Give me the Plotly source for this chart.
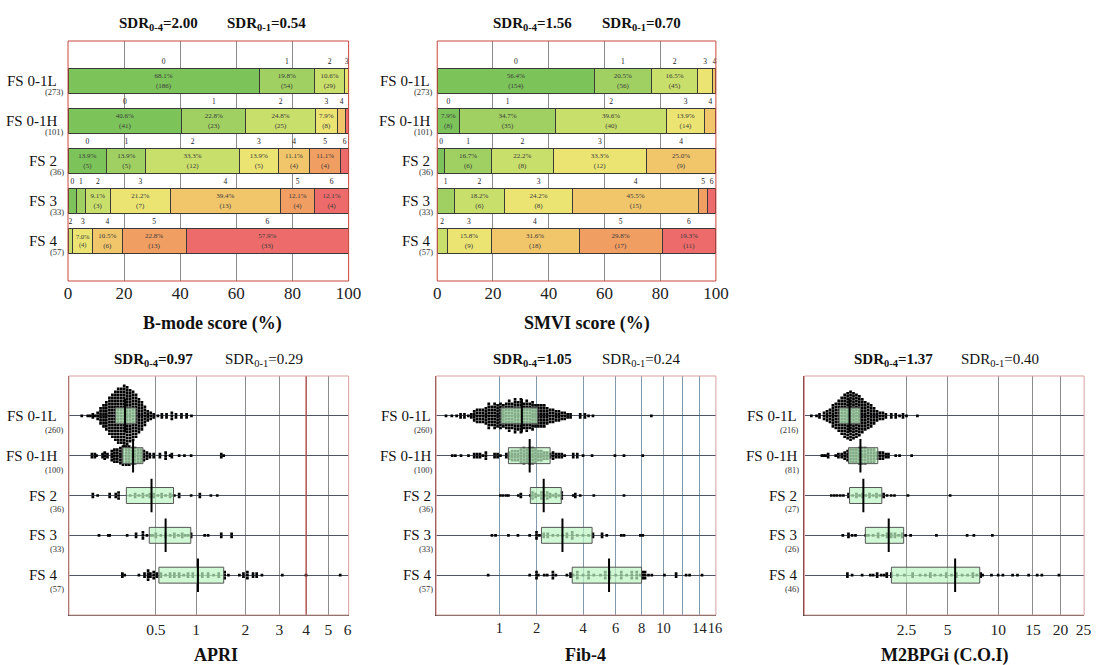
import plotly.graph_objects as go

W, H = 1105, 665
FONT = "Liberation Serif, Times New Roman, serif"

# ---------------- data ----------------
groups = ["FS 0-1L", "FS 0-1H", "FS 2", "FS 3", "FS 4"]
rows = [1, 2, 3, 4, 5]
score_levels = [0, 1, 2, 3, 4, 5, 6]
score_colors = ["#7cc35a", "#a0d062", "#c9df6b", "#ebe473", "#f1c56a", "#f19e62", "#ed6b6b"]

# B-mode score: counts per score (0..6) for each group
bmode_n = [273, 101, 36, 33, 57]
bmode_counts = [
    [186, 41, 5, 1, 0],   # score 0
    [54, 23, 5, 1, 0],    # score 1
    [29, 25, 12, 3, 1],   # score 2
    [4, 8, 5, 7, 4],      # score 3
    [0, 3, 4, 13, 6],     # score 4
    [0, 0, 4, 4, 13],     # score 5
    [0, 1, 1, 4, 33],     # score 6
]
# SMVI score
smvi_n = [273, 101, 36, 33, 57]
smvi_counts = [
    [154, 8, 1, 0, 0],
    [56, 35, 6, 2, 0],
    [45, 40, 8, 6, 2],
    [15, 14, 12, 8, 9],
    [3, 4, 9, 15, 18],
    [0, 0, 0, 1, 17],
    [0, 0, 0, 1, 11],
]

# APRI dot plot (values and dot counts per column)
apri_n = [260, 100, 36, 33, 57]
apri_vals = [
    [0.080, 0.097, 0.105, 0.113, 0.121, 0.130, 0.141, 0.153, 0.165, 0.179, 0.193, 0.208, 0.223, 0.240, 0.257,
     0.275, 0.294, 0.314, 0.335, 0.356, 0.379, 0.403, 0.427, 0.453, 0.480, 0.52, 0.56, 0.61, 0.67, 0.72, 0.79, 0.86, 0.93],
    [0.11, 0.12, 0.126, 0.149, 0.158, 0.17, 0.19, 0.203, 0.218, 0.235, 0.25, 0.27, 0.288, 0.307, 0.328, 0.35,
     0.371, 0.395, 0.42, 0.445, 0.48, 0.54, 0.60, 0.65, 0.67, 0.76, 0.83, 0.925, 1.45, 1.5],
    [0.113, 0.13, 0.18, 0.21, 0.225, 0.294, 0.328, 0.356, 0.387, 0.42, 0.445, 0.48, 0.52, 0.558, 0.60, 0.65,
     0.68, 0.70, 0.76, 0.925, 1.06, 1.25, 1.37],
    [0.135, 0.174, 0.18, 0.275, 0.335, 0.387, 0.42, 0.45, 0.47, 0.5, 0.55, 0.6, 0.65, 0.7, 0.75, 0.8, 0.84, 0.88,
     0.925, 1.14, 1.2, 1.45, 1.67],
    [0.246, 0.26, 0.356, 0.40, 0.43, 0.45, 0.48, 0.51, 0.55, 0.6, 0.65, 0.7, 0.76, 0.82, 0.88, 0.95, 1.03, 1.1,
     1.2, 1.3, 1.4, 1.52, 1.6, 1.85, 1.95, 2.05, 2.2, 2.3, 2.45, 3.1, 4.0, 5.6],
]
apri_cnts = [
    [1, 1, 1, 2, 1, 3, 6, 8, 10, 13, 15, 17, 19, 19, 21, 20, 18, 17, 15, 12, 10, 7, 4, 3, 2, 1, 2, 2, 3, 2, 2, 2, 1],
    [2, 2, 1, 2, 3, 2, 4, 5, 5, 6, 7, 7, 7, 6, 6, 5, 5, 4, 3, 2, 2, 2, 3, 1, 2, 1, 1, 1, 2, 1],
    [2, 1, 2, 2, 3, 1, 2, 1, 2, 1, 2, 2, 1, 2, 1, 2, 1, 1, 2, 1, 2, 1, 1],
    [1, 1, 1, 1, 2, 3, 1, 1, 1, 2, 1, 2, 1, 2, 1, 2, 1, 1, 2, 1, 1, 2, 2],
    [2, 1, 1, 2, 4, 2, 3, 2, 2, 1, 2, 2, 2, 1, 2, 2, 1, 2, 2, 1, 2, 3, 1, 1, 2, 3, 2, 2, 1, 1, 1, 1],
]
apri_q1 = [0.208, 0.246, 0.27, 0.44, 0.53]
apri_med = [0.262, 0.314, 0.46, 0.60, 1.03]
apri_q3 = [0.335, 0.387, 0.69, 0.92, 1.50]
apri_ticks = [0.5, 1, 2, 3, 4, 5, 6]
apri_ticklabels = ["0.5", "1", "2", "3", "4", "5", "6"]
apri_cutoff = 4

# Fib-4 dot plot
fib4_n = [260, 100, 36, 33, 57]
fib4_vals = [
    [0.245, 0.296, 0.343, 0.385, 0.43, 0.478, 0.517, 0.557, 0.599, 0.644, 0.691, 0.74, 0.791, 0.845, 0.901, 0.96,
     1.021, 1.084, 1.15, 1.219, 1.29, 1.365, 1.442, 1.522, 1.605, 1.69, 1.78, 1.871, 1.966, 2.064, 2.166, 2.27,
     2.379, 2.49, 2.605, 2.724, 2.846, 2.971, 3.1, 3.233, 3.37, 3.85, 4.1, 4.3, 4.55, 8.86],
    [0.30, 0.33, 0.39, 0.48, 0.557, 0.60, 0.644, 0.691, 0.74, 0.90, 0.96, 1.02, 1.15, 1.22, 1.29, 1.365, 1.442,
     1.522, 1.605, 1.69, 1.78, 1.871, 1.966, 2.064, 2.166, 2.27, 2.379, 2.49, 2.605, 2.724, 2.846, 2.971, 3.1,
     3.5, 3.7, 4.0, 4.5, 5.95, 6.6, 8.1],
    [1.02, 1.08, 1.15, 1.2, 1.45, 1.52, 1.8, 1.87, 1.97, 2.06, 2.17, 2.27, 2.38, 2.49, 2.6, 2.72, 2.85, 2.97,
     3.5, 3.6, 3.85, 4.6, 6.6],
    [0.85, 0.92, 1.2, 1.44, 1.78, 2.0, 2.1, 2.25, 2.4, 2.6, 2.8, 3.0, 3.2, 3.45, 3.7, 4.0, 4.3, 4.55, 5.1, 5.4,
     6.4, 6.6, 7.9, 8.1],
    [0.78, 1.78, 2.0, 2.06, 2.27, 2.38, 2.6, 2.72, 3.2, 3.37, 3.5, 3.7, 4.0, 4.3, 4.6, 5.0, 5.3, 5.6, 6.0, 6.4,
     6.8, 7.2, 7.6, 7.9, 8.1, 8.3, 8.6, 8.9, 10.1, 11.3, 12.4, 12.8, 14.3],
]
fib4_cnts = [
    [1, 1, 1, 2, 2, 1, 2, 4, 5, 5, 5, 6, 9, 7, 9, 8, 9, 8, 9, 11, 9, 12, 10, 12, 9, 11, 9, 10, 8, 8,
     8, 8, 6, 5, 5, 4, 4, 3, 3, 2, 2, 2, 2, 1, 1, 1],
    [1, 1, 1, 1, 2, 2, 2, 1, 3, 2, 2, 1, 2, 3, 4, 4, 4, 5, 6, 5, 6, 6, 5, 4, 4, 3, 3, 2, 3, 2, 2, 2, 1,
     2, 2, 1, 1, 1, 1, 1],
    [1, 1, 1, 1, 1, 2, 1, 3, 2, 1, 3, 1, 3, 2, 1, 2, 1, 3, 1, 2, 1, 1, 1],
    [1, 1, 1, 1, 1, 3, 1, 2, 2, 1, 1, 1, 2, 3, 1, 1, 1, 2, 2, 1, 1, 1, 1, 1],
    [1, 1, 3, 1, 1, 1, 3, 1, 1, 2, 1, 3, 1, 3, 1, 1, 3, 3, 1, 3, 1, 3, 3, 1, 3, 3, 1, 1, 1, 2, 1, 1, 1],
]
fib4_q1 = [1.03, 1.2, 1.8, 2.17, 3.45]
fib4_med = [1.55, 1.78, 2.25, 3.0, 5.55]
fib4_q3 = [2.04, 2.49, 2.95, 4.5, 8.0]
fib4_ticks = [1, 2, 4, 6, 8, 10, 12, 14, 16]
fib4_ticklabels = ["1", "2", "4", "6", "8", "10", "", "14", "16"]

# M2BPGi dot plot
m2_n = [216, 81, 27, 26, 46]
m2_vals = [
    [0.194, 0.238, 0.266, 0.313, 0.347, 0.383, 0.421, 0.462, 0.505, 0.552, 0.601, 0.654, 0.709, 0.768, 0.83,
     0.895, 0.964, 1.037, 1.114, 1.194, 1.278, 1.366, 1.458, 1.555, 1.657, 1.856, 2.03, 2.19, 2.34, 2.5, 3.05],
    [0.29, 0.31, 0.33, 0.36, 0.46, 0.5, 0.552, 0.601, 0.654, 0.709, 0.768, 0.83, 0.895, 0.964, 1.037, 1.114,
     1.194, 1.278, 1.366, 1.458, 1.555, 1.657, 1.75, 2.03, 2.19, 2.75],
    [0.4, 0.44, 0.48, 0.53, 0.58, 0.67, 0.75, 0.83, 0.9, 0.97, 1.05, 1.15, 1.25, 1.35, 1.45, 1.58, 1.7, 1.85,
     1.98, 2.57, 5.2],
    [0.57, 0.67, 0.74, 0.81, 1.05, 1.12, 1.25, 1.4, 1.55, 1.7, 1.85, 2.0, 2.15, 2.3, 2.46, 2.7, 4.2, 6.65, 7.3, 9.3],
    [0.65, 0.74, 0.96, 1.17, 1.25, 1.37, 1.5, 1.6, 1.69, 1.86, 2.1, 2.4, 2.8, 3.2, 3.5, 3.8, 4.1, 4.5, 4.9, 5.3,
     5.7, 6.2, 6.7, 7.2, 7.6, 8.0, 8.2, 9.2, 10.0, 10.6, 11.9, 12.6, 14.3, 15.7, 16.5, 19.7],
]
m2_cnts = [
    [1, 1, 2, 3, 4, 5, 8, 9, 11, 13, 15, 16, 17, 16, 15, 14, 12, 10, 9, 8, 6, 4, 3, 3, 2, 2, 2, 1, 2, 1, 1],
    [1, 1, 1, 2, 1, 2, 2, 3, 4, 5, 5, 5, 6, 6, 6, 5, 5, 5, 3, 3, 3, 2, 2, 1, 1, 1],
    [1, 1, 1, 1, 1, 2, 1, 2, 1, 2, 1, 2, 1, 2, 1, 2, 1, 1, 1, 1, 1],
    [1, 2, 1, 1, 1, 1, 1, 2, 1, 2, 2, 2, 1, 2, 1, 1, 1, 1, 1, 1],
    [2, 1, 1, 1, 1, 2, 1, 1, 2, 2, 1, 1, 2, 1, 1, 2, 1, 1, 2, 1, 2, 1, 1, 2, 1, 2, 1, 1, 1, 1, 1, 1, 1, 1, 1, 1],
]
m2_q1 = [0.51, 0.67, 0.69, 1.04, 1.86]
m2_med = [0.69, 0.92, 0.99, 1.76, 5.6]
m2_q3 = [0.92, 1.39, 1.52, 2.37, 7.9]
m2_ticks = [2.5, 5, 10, 15, 20, 25]
m2_ticklabels = ["2.5", "5", "10", "15", "20", "25"]

# ---------------- figure ----------------
fig = go.Figure()
shapes = []
annotations = []
DOT_DY = 0.075


def ann(text, x, y, size, bold=False, xref="paper", yref="paper", xanchor="center", xshift=0, color="#111"):
    if bold:
        text = "<b>" + text + "</b>"
    annotations.append(dict(text=text, x=x, y=y, xref=xref, yref=yref, xanchor=xanchor, yanchor="middle",
                            xshift=xshift, showarrow=False, font=dict(family=FONT, size=size, color=color)))


def add_bar_panel(counts_by_score, ns, xa, ya):
    for s, cnts in zip(score_levels, counts_by_score):
        pcts = [100.0 * c / n for c, n in zip(cnts, ns)]
        xs = [p if p > 0 else None for p in pcts]
        texts = [f"{p:.1f}%<br>({c})" if p >= 6.5 else "" for p, c in zip(pcts, cnts)]
        fig.add_trace(go.Bar(
            x=xs, y=rows, orientation="h", width=0.62, xaxis=xa, yaxis=ya,
            marker=dict(color=score_colors[s], line=dict(color="#3a3a3a", width=1)),
            text=texts, textposition="inside", insidetextanchor="middle", textangle=0,
            insidetextfont=dict(size=7, color="#3a3a3a", family=FONT),
            hoverinfo="skip", showlegend=False))
    lx, ly, lt = [], [], []
    for i, n in enumerate(ns):
        left = 0.0
        for s, cnts in zip(score_levels, counts_by_score):
            p = 100.0 * cnts[i] / n
            if p > 1.0:
                lx.append(left + p / 2)
                ly.append(rows[i] - 0.47)
                lt.append(str(s))
            left += p
    fig.add_trace(go.Scatter(x=lx, y=ly, text=lt, mode="text", xaxis=xa, yaxis=ya, cliponaxis=False,
                             textfont=dict(size=7.5, color="#222", family=FONT),
                             hoverinfo="skip", showlegend=False))


def add_dot_panel(vals_list, cnts_list, q1, med, q3, p, xa, ya):
    for i, (vals, cnts) in enumerate(zip(vals_list, cnts_list)):
        yc = rows[i]
        xs, ys = [], []
        for v, c in zip(vals, cnts):
            for k in range(c):
                xs.append(v ** p)
                ys.append(yc + (k - (c - 1) / 2) * DOT_DY)
        fig.add_trace(go.Scatter(x=xs, y=ys, mode="markers", xaxis=xa, yaxis=ya,
                                 marker=dict(symbol="square", size=2.7, color="#000", line=dict(width=0)),
                                 hoverinfo="skip", showlegend=False))
        shapes.append(dict(type="rect", xref=xa, yref=ya, x0=q1[i] ** p, x1=q3[i] ** p,
                           y0=yc - 0.2, y1=yc + 0.2, fillcolor="rgba(190,245,195,0.7)",
                           line=dict(color="#555", width=1), layer="above"))
        shapes.append(dict(type="line", xref=xa, yref=ya, x0=med[i] ** p, x1=med[i] ** p,
                           y0=yc - 0.42, y1=yc + 0.42, line=dict(color="#000", width=2), layer="above"))


def add_group_labels(ns, xa, ya, shift_name, shift_n, n_dy):
    for i in range(5):
        ann(groups[i], 0, rows[i], 15, xref=f"{xa} domain", yref=ya, xanchor="right", xshift=shift_name)
        ann(f"({ns[i]})", 0, rows[i] + n_dy, 8.5, xref=f"{xa} domain", yref=ya, xanchor="right",
            xshift=shift_n, color="#333")


def border(xa, ya, color):
    shapes.append(dict(type="rect", xref=f"{xa} domain", yref=f"{ya} domain", x0=0, x1=1, y0=0, y1=1,
                       line=dict(color=color, width=1), fillcolor="rgba(0,0,0,0)", layer="above"))


# top panels
add_bar_panel(bmode_counts, bmode_n, "x", "y")
add_bar_panel(smvi_counts, smvi_n, "x2", "y2")
# bottom panels
P_APRI, P_FIB, P_M2 = 0.295, 0.33, 0.30
# red reference line at APRI = 4
shapes.append(dict(type="line", xref="x3", yref="y3 domain", x0=apri_cutoff ** P_APRI, x1=apri_cutoff ** P_APRI,
                   y0=0, y1=1, line=dict(color="#c0504d", width=1.2), layer="above"))
add_dot_panel(apri_vals, apri_cnts, apri_q1, apri_med, apri_q3, P_APRI, "x3", "y3")
add_dot_panel(fib4_vals, fib4_cnts, fib4_q1, fib4_med, fib4_q3, P_FIB, "x4", "y4")
add_dot_panel(m2_vals, m2_cnts, m2_q1, m2_med, m2_q3, P_M2, "x5", "y5")

add_group_labels(bmode_n, "x", "y", -9, -2, 0.27)
add_group_labels(smvi_n, "x2", "y2", -5, -2, 0.27)
add_group_labels(apri_n, "x3", "y3", -10, -3, 0.35)
add_group_labels(fib4_n, "x4", "y4", -3, -1, 0.35)
add_group_labels(m2_n, "x5", "y5", -5, -3, 0.35)

border("x", "y", "#c9463d")
border("x2", "y2", "#c9463d")
border("x3", "y3", "#d9a0a0")
border("x4", "y4", "#d9a0a0")
border("x5", "y5", "#d9a0a0")


def px(xp):
    return xp / W


def py(yp):
    return 1 - yp / H


# SDR headers
ann("SDR<sub>0-4</sub>=2.00", px(157), py(24), 15, bold=True)
ann("SDR<sub>0-1</sub>=0.54", px(267), py(24), 15, bold=True)
ann("SDR<sub>0-4</sub>=1.56", px(537), py(24), 15, bold=True)
ann("SDR<sub>0-1</sub>=0.70", px(647), py(24), 15, bold=True)
ann("SDR<sub>0-4</sub>=0.97", px(152), py(360), 15, bold=True)
ann("SDR<sub>0-1</sub>=0.29", px(264), py(360), 15)
ann("SDR<sub>0-4</sub>=1.05", px(537), py(360), 15, bold=True)
ann("SDR<sub>0-1</sub>=0.24", px(647), py(360), 15)
ann("SDR<sub>0-4</sub>=1.37", px(903), py(360), 15, bold=True)
ann("SDR<sub>0-1</sub>=0.40", px(1012), py(360), 15)

# axis titles
ann("B-mode score (%)", px(212), py(323), 18, bold=True)
ann("SMVI score (%)", px(592), py(323), 18, bold=True)
ann("APRI", px(215), py(655), 18, bold=True)
ann("Fib-4", px(591), py(655), 18, bold=True)
ann("M2BPGi (C.O.I)", px(956), py(655), 18, bold=True)


def bar_x(x0, x1, anchor):
    return dict(domain=[px(x0), px(x1)], anchor=anchor, range=[0, 100], tickvals=[0, 20, 40, 60, 80, 100],
                showgrid=True, gridcolor="#8a8a8a", gridwidth=1, zeroline=False, showline=False, ticks="",
                tickangle=0, tickfont=dict(family=FONT, size=17, color="#222"), fixedrange=True)


def bar_y(y0, y1, anchor):
    return dict(domain=[py(y1), py(y0)], anchor=anchor, range=[6, 0], showgrid=False, zeroline=False,
                showticklabels=False, ticks="", showline=False, fixedrange=True)


def dot_x(x0, x1, anchor, rng, ticks, labels, p, gridcolor, fsize=15.5):
    return dict(domain=[px(x0), px(x1)], anchor=anchor, range=rng, tickvals=[t ** p for t in ticks],
                ticktext=labels, showgrid=True, gridcolor=gridcolor, gridwidth=1, zeroline=False,
                showline=True, linecolor="#444", linewidth=1, ticks="", tickangle=0,
                tickfont=dict(family=FONT, size=fsize, color="#222"), fixedrange=True)


def dot_y(y0, y1, anchor):
    return dict(domain=[py(y1), py(y0)], anchor=anchor, range=[6, 0], tickvals=rows, showgrid=True,
                gridcolor="#4f5560", gridwidth=1, zeroline=False, showticklabels=False, ticks="",
                showline=True, linecolor="#8b4a4a", linewidth=1, fixedrange=True)


fig.update_layout(
    width=W, height=H, margin=dict(l=0, r=0, t=0, b=0),
    paper_bgcolor="white", plot_bgcolor="white", barmode="stack", showlegend=False,
    xaxis=bar_x(65, 350, "y"), yaxis=bar_y(41, 281, "x"),
    xaxis2=bar_x(440, 723, "y2"), yaxis2=bar_y(41, 281, "x2"),
    xaxis3=dot_x(66, 350, "y3", [0.416, 1.701], apri_ticks, apri_ticklabels, P_APRI, "#8c8c8c"),
    yaxis3=dot_y(376, 615, "x3"),
    xaxis4=dot_x(439, 723, "y4", [0.561, 2.502], fib4_ticks, fib4_ticklabels, P_FIB, "#8298ab", 14.5),
    yaxis4=dot_y(376, 615, "x4"),
    xaxis5=dot_x(813, 1097, "y5", [0.561, 2.632], m2_ticks, m2_ticklabels, P_M2, "#8c8c8c"),
    yaxis5=dot_y(376, 615, "x5"),
    shapes=shapes, annotations=annotations,
)

fig.write_html("out.html")
